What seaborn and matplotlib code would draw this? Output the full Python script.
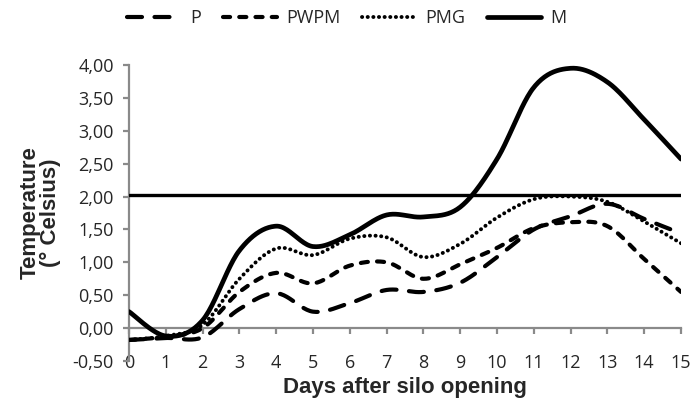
import numpy as np
import pandas as pd
import seaborn as sns
import matplotlib
matplotlib.use("Agg")
import matplotlib.pyplot as plt
from matplotlib.lines import Line2D

# --- dados ---
days = list(range(16))
p_vals = [-0.18, -0.15, -0.14, 0.29, 0.53, 0.25, 0.38, 0.58, 0.55, 0.69, 1.08, 1.50, 1.70, 1.89, 1.66, 1.44]
pwpm_vals = [-0.18, -0.13, 0.00, 0.55, 0.84, 0.68, 0.95, 1.00, 0.75, 0.97, 1.22, 1.52, 1.61, 1.55, 1.05, 0.55]
pmg_vals = [-0.18, -0.12, 0.05, 0.75, 1.21, 1.11, 1.36, 1.38, 1.08, 1.28, 1.68, 1.96, 2.00, 1.92, 1.62, 1.29]
m_vals = [0.25, -0.12, 0.12, 1.18, 1.55, 1.24, 1.42, 1.72, 1.69, 1.84, 2.57, 3.66, 3.95, 3.74, 3.17, 2.57]
series_names = ["P", "PWPM", "PMG", "M"]
limite = 2.02
y_ticks = [-0.5, 0.0, 0.5, 1.0, 1.5, 2.0, 2.5, 3.0, 3.5, 4.0]


def suavizar(x, y, n=24):
    """Curva suavizada (Catmull-Rom), como a linha suavizada do Excel."""
    x = np.asarray(x, float)
    y = np.asarray(y, float)
    px = np.concatenate([[x[0]], x, [x[-1]]])
    py = np.concatenate([[y[0]], y, [y[-1]]])
    xs, ys = [], []
    t = np.linspace(0, 1, n, endpoint=False)
    for i in range(1, len(px) - 2):
        for arr, out in ((px, xs), (py, ys)):
            p0, p1, p2, p3 = arr[i - 1], arr[i], arr[i + 1], arr[i + 2]
            out.extend(0.5 * (2 * p1 + (-p0 + p2) * t
                              + (2 * p0 - 5 * p1 + 4 * p2 - p3) * t ** 2
                              + (-p0 + 3 * p1 - 3 * p2 + p3) * t ** 3))
    xs.append(x[-1])
    ys.append(y[-1])
    return xs, ys


sns.set_style("white")
plt.rcParams["font.family"] = ["Open Sans", "DejaVu Sans"]

fig = plt.figure(figsize=(6.93, 4.0), dpi=100)
ax = fig.add_axes([0.1862, 0.0975, 0.7965, 0.74])

estilos = {
    "P": dict(lw=3.0, linestyle=(0, (3.6, 3.0))),
    "PWPM": dict(lw=3.0, linestyle=(0, (1.7, 2.2))),
    "PMG": dict(lw=2.8, linestyle=(0, (0.05, 1.4))),
    "M": dict(lw=3.4, linestyle="-"),
}

for nome, vals in zip(series_names, [p_vals, pwpm_vals, pmg_vals, m_vals]):
    sx, sy = suavizar(days, vals)
    df = pd.DataFrame({"day": sx, "temp": sy})
    sns.lineplot(data=df, x="day", y="temp", ax=ax, color="black", sort=False,
                 estimator=None, legend=False, zorder=3,
                 dash_capstyle="round", solid_capstyle="round", **estilos[nome])

ax.axhline(limite, color="black", lw=2.4, zorder=3)

ax.set_xlim(0, 15)
ax.set_ylim(-0.5, 4.0)
ax.set_xticks(days)
ax.set_xticklabels([str(d) for d in days])
ax.set_yticks(y_ticks)
ax.set_yticklabels([f"{v:.2f}".replace(".", ",") for v in y_ticks])

cinza = "#8a8a8a"
for lado in ["top", "right"]:
    ax.spines[lado].set_visible(False)
ax.spines["bottom"].set_position(("data", 0))
ax.spines["bottom"].set_color(cinza)
ax.spines["left"].set_color(cinza)
ax.spines["bottom"].set_linewidth(1.6)
ax.spines["left"].set_linewidth(1.6)
ax.tick_params(axis="x", direction="out", length=4, width=1.6, color=cinza,
               pad=15, labelsize=13, bottom=True)
ax.tick_params(axis="y", direction="out", length=4, width=1.6, color=cinza,
               pad=7, labelsize=13, left=True)

ax.set_xlabel("Days after silo opening", fontsize=16, fontweight="bold",
              family="Liberation Sans", labelpad=3)
ax.set_ylabel("Temperature\n(° Celsius)", fontsize=16, fontweight="bold",
              family="Liberation Sans", labelpad=8, linespacing=1.0)

handles = [Line2D([], [], color="black", dash_capstyle="round",
                  solid_capstyle="round", **estilos[n]) for n in series_names]
fig.legend(handles, series_names, loc="center", bbox_to_anchor=(0.5, 0.955),
           ncol=4, frameon=False, fontsize=13, handlelength=3.0,
           handletextpad=0.5, columnspacing=1.2)

fig.savefig("out.png", dpi=100)
